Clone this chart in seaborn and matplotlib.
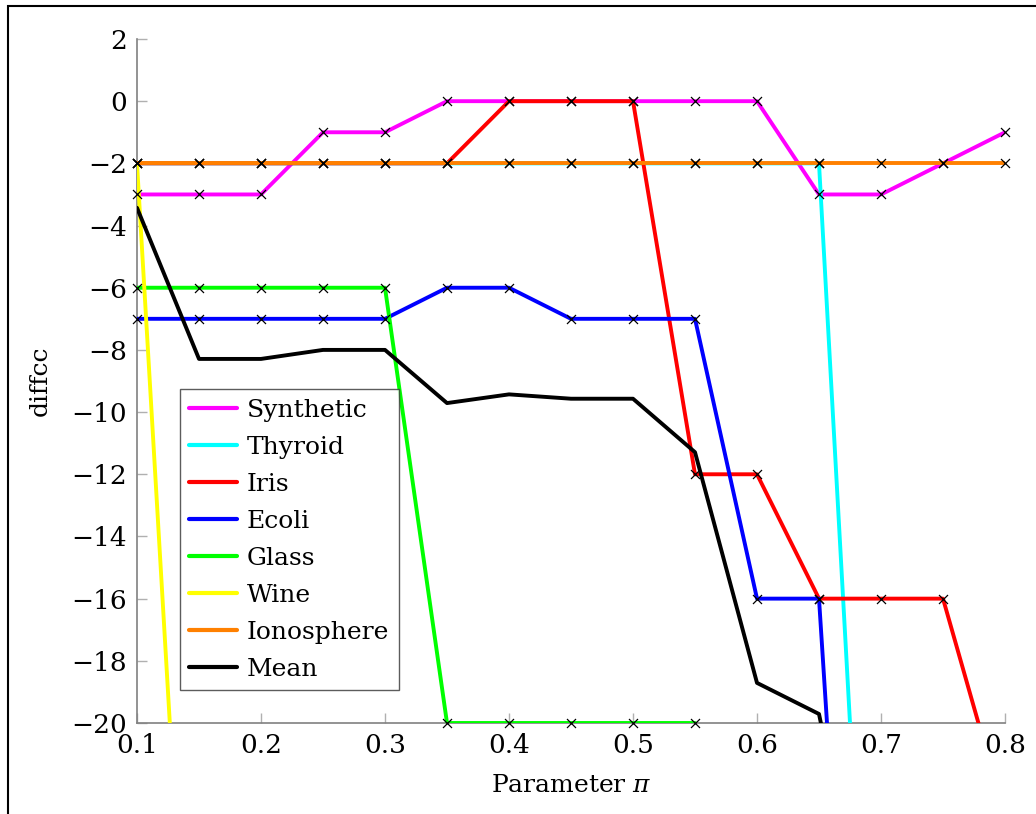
import matplotlib
matplotlib.use("Agg")
import matplotlib.pyplot as plt
from matplotlib.patches import Rectangle
import seaborn as sns
import pandas as pd

sns.set_style("white")
plt.rcParams['font.family'] = ['DejaVu Serif']
plt.rcParams['mathtext.fontset'] = 'dejavuserif'
plt.rcParams['text.color'] = 'black'
plt.rcParams['axes.labelcolor'] = 'black'

pi_vals = [0.1, 0.15, 0.2, 0.25, 0.3, 0.35, 0.4, 0.45, 0.5, 0.55, 0.6, 0.65, 0.7, 0.75, 0.8]
synthetic = [-3, -3, -3, -1, -1, 0, 0, 0, 0, 0, 0, -3, -3, -2, -1]
thyroid = [-2, -2, -2, -2, -2, -2, -2, -2, -2, -2, -2, -2, -38, -38, -38]
iris = [-2, -2, -2, -2, -2, -2, 0, 0, 0, -12, -12, -16, -16, -16, -23]
ecoli = [-7, -7, -7, -7, -7, -6, -6, -7, -7, -7, -16, -16, -47, -47, -47]
glass = [-6, -6, -6, -6, -6, -20, -20, -20, -20, -20, -63, -63, -63, -63, -63]
wine = [-2, -36, -36, -36, -36, -36, -36, -36, -36, -36, -36, -36, -36, -36, -36]
ionosphere = [-2, -2, -2, -2, -2, -2, -2, -2, -2, -2, -2, -2, -2, -2, -2]
mean = [-3.43, -8.29, -8.29, -8.0, -8.0, -9.71, -9.43, -9.57, -9.57, -11.29, -18.71, -19.71, -29.3, -29.1, -30.0]

series_names = ["Synthetic", "Thyroid", "Iris", "Ecoli", "Glass", "Wine", "Ionosphere", "Mean"]
series_values = [synthetic, thyroid, iris, ecoli, glass, wine, ionosphere, mean]
series_colors = ["#ff00ff", "#00ffff", "#ff0000", "#0000ff", "#00ff00", "#ffff00", "#ff8000", "#000000"]
series_markers = [True, True, True, True, True, True, True, False]

x_ticks = [0.1, 0.2, 0.3, 0.4, 0.5, 0.6, 0.7, 0.8]
x_ticklabels = ["0.1", "0.2", "0.3", "0.4", "0.5", "0.6", "0.7", "0.8"]
y_ticks = [-20, -18, -16, -14, -12, -10, -8, -6, -4, -2, 0, 2]

fig = plt.figure(figsize=(10.36, 8.14), dpi=100)
ax = fig.add_axes([137/1036, 1 - 723/814, (1005-137)/1036, (723-39)/814])

clip_rect = Rectangle((-0.015, -0.015), 1.03, 1.03, transform=ax.transAxes)

for name, vals, col, mk in zip(series_names, series_values, series_colors, series_markers):
    df = pd.DataFrame({"pi": pi_vals, "diffcc": vals})
    sns.lineplot(data=df, x="pi", y="diffcc", color=col, lw=2.8, ax=ax, label=name)
    if mk:
        n_before = len(ax.collections)
        sns.scatterplot(data=df, x="pi", y="diffcc", marker="x", color="black",
                        s=42, linewidth=0.9, ax=ax, legend=False, zorder=3)
        for coll in ax.collections[n_before:]:
            coll.set_clip_path(clip_rect)

ax.set_xlim(0.1, 0.8)
ax.set_ylim(-20, 2)
ax.set_xticks(x_ticks)
ax.set_xticklabels(x_ticklabels)
ax.set_yticks(y_ticks)
ax.set_yticklabels([f"{v}".replace("-", "\u2212") for v in y_ticks])

for s in ["top", "right"]:
    ax.spines[s].set_visible(False)
for s in ["left", "bottom"]:
    ax.spines[s].set_color("#808080")
    ax.spines[s].set_linewidth(1.2)
    ax.spines[s].set_zorder(1)
ax.tick_params(bottom=True, left=True, direction="in", length=7, width=1.0,
               color="#b0b0b0", labelsize=19, labelcolor="black", pad=7)

ax.set_xlabel(r"Parameter $\pi$", fontsize=18, labelpad=12, color="black")
ax.set_ylabel("diffcc", fontsize=18, labelpad=14, color="black")

leg = ax.legend(loc="upper left", bbox_to_anchor=(0.0495, 0.488), borderaxespad=0,
                fontsize=18, frameon=True, fancybox=False, edgecolor="#333333",
                handlelength=1.9, handletextpad=0.4, labelspacing=0.56,
                borderpad=0.38, labelcolor="black")
leg.get_frame().set_linewidth(1.0)
for h in leg.get_lines():
    h.set_linewidth(3)

fig.patches.append(Rectangle((8/1036, -1), 3, (1 - 6/814) + 1, transform=fig.transFigure,
                             fill=False, edgecolor="black", linewidth=1.5))

fig.savefig("out.png", dpi=100)
